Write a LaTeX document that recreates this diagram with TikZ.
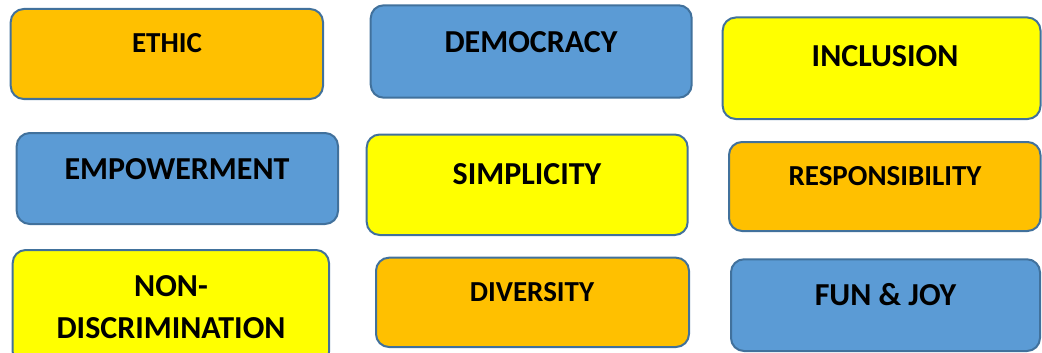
\documentclass[tikz,border=0pt]{standalone}
\usepackage{fontspec}
\setmainfont{Carlito}
\definecolor{cOrange}{HTML}{FFC000}
\definecolor{cBlue}{HTML}{5B9BD5}
\definecolor{cYellow}{HTML}{FFFF00}
\definecolor{cEdge}{HTML}{41719C}
\tikzset{
  box/.style={draw=cEdge, line width=2pt, rounded corners=13pt, inner sep=0pt},
  txt/.style={anchor=base, inner sep=0pt, font=\bfseries\fontsize{32}{38}\selectfont, text=black},
  txtsmall/.style={txt, font=\bfseries\fontsize{29}{35}\selectfont},
}
\begin{document}
\begin{tikzpicture}[x=1pt,y=-1pt]
\useasboundingbox (0,0) rectangle (1042,353);
\path[box, fill=cOrange] (10.7,9) rectangle (323,99);
\node[txtsmall] (t1) at (167,52.3) {ETHIC};
\path[box, fill=cBlue] (370.7,5.3) rectangle (691.7,97.7);
\node[txt] (t2) at (531,52.3) {DEMOCRACY};
\path[box, fill=cYellow] (722.7,17.5) rectangle (1040.5,119);
\node[txt] (t3) at (885,66.5) {INCLUSION};
\path[box, fill=cBlue] (16.7,133) rectangle (338,224);
\node[txt] (t4) at (177,179.3) {EMPOWERMENT};
\path[box, fill=cYellow] (366.7,134.5) rectangle (687.7,235);
\node[txt] (t5) at (527,184) {SIMPLICITY};
\path[box, fill=cOrange] (729,142) rectangle (1040.5,231);
\node[txtsmall] (t6) at (885,185) {RESPONSIBILITY};
\path[box, fill=cYellow] (12.7,250) rectangle (329,365);
\node[txt] (t7a) at (171,296.7) {NON-};
\node[txt] (t7b) at (171,338.3) {DISCRIMINATION};
\path[box, fill=cOrange] (376,257.7) rectangle (689,347);
\node[txtsmall] (t8) at (532,301.7) {DIVERSITY};
\path[box, fill=cBlue] (731,259.3) rectangle (1040,351);
\node[txt] (t9) at (885.5,305.5) {FUN \& JOY};
\end{tikzpicture}
\end{document}
